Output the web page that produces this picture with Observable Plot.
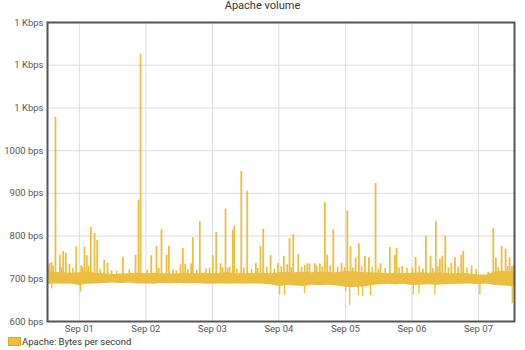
<!DOCTYPE html>
<html>
<head>
<meta charset="utf-8">
<script src="https://cdn.jsdelivr.net/npm/d3@7"></script>
<script src="https://cdn.jsdelivr.net/npm/@observablehq/plot@0.6"></script>
<style>
  body { margin: 0; background: #fff; font-family: Roboto, "Noto Sans", sans-serif; }
  #wrap { position: relative; width: 525px; height: 350px; }
  #title { height: 14px; line-height: 11px; text-align: center; font-size: 11px; color: #333; }
  #legend { position: absolute; left: 8px; top: 336px; font-size: 9.5px; color: #333; display: flex; align-items: center; }
  #legend .sw { width: 13px; height: 9px; background: #ECBE40; border: 1px solid #d9a92a; margin-right: 1px; box-sizing: border-box; }
</style>
</head>
<body>
<div id="wrap">
  <div id="title">Apache volume</div>
  <div id="chart"></div>
  <div id="legend"><span class="sw"></span><span>Apache: Bytes per second</span></div>
</div>
<script>
const title = "Apache volume";
const seriesName = "Apache: Bytes per second";

// y axis ticks (bps)
const yTicks = [600, 700, 800, 900, 1000, 1100, 1200, 1300];
// x axis ticks (days)
const xTicks = ["2023-09-01T00:00Z","2023-09-02T00:00Z","2023-09-03T00:00Z","2023-09-04T00:00Z","2023-09-05T00:00Z","2023-09-06T00:00Z","2023-09-07T00:00Z"];
const xStart = "2023-08-31T12:30Z";
const xEnd = "2023-09-07T13:00Z";

// dense baseline noise band (every 3 hours): low / high bps
const bandTime = [
  "2023-08-31T12:00Z","2023-08-31T15:00Z","2023-08-31T18:00Z","2023-08-31T21:00Z",
  "2023-09-01T00:00Z","2023-09-01T03:00Z","2023-09-01T06:00Z","2023-09-01T09:00Z","2023-09-01T12:00Z","2023-09-01T15:00Z","2023-09-01T18:00Z","2023-09-01T21:00Z",
  "2023-09-02T00:00Z","2023-09-02T03:00Z","2023-09-02T06:00Z","2023-09-02T09:00Z","2023-09-02T12:00Z","2023-09-02T15:00Z","2023-09-02T18:00Z","2023-09-02T21:00Z",
  "2023-09-03T00:00Z","2023-09-03T03:00Z","2023-09-03T06:00Z","2023-09-03T09:00Z","2023-09-03T12:00Z","2023-09-03T15:00Z","2023-09-03T18:00Z","2023-09-03T21:00Z",
  "2023-09-04T00:00Z","2023-09-04T03:00Z","2023-09-04T06:00Z","2023-09-04T09:00Z","2023-09-04T12:00Z","2023-09-04T15:00Z","2023-09-04T18:00Z","2023-09-04T21:00Z",
  "2023-09-05T00:00Z","2023-09-05T03:00Z","2023-09-05T06:00Z","2023-09-05T09:00Z","2023-09-05T12:00Z","2023-09-05T15:00Z","2023-09-05T18:00Z","2023-09-05T21:00Z",
  "2023-09-06T00:00Z","2023-09-06T03:00Z","2023-09-06T06:00Z","2023-09-06T09:00Z","2023-09-06T12:00Z","2023-09-06T15:00Z","2023-09-06T18:00Z","2023-09-06T21:00Z",
  "2023-09-07T00:00Z","2023-09-07T03:00Z","2023-09-07T06:00Z","2023-09-07T09:00Z","2023-09-07T12:00Z","2023-09-07T15:00Z"
];
const bandLow = [
  686,688,687,688,
  684,687,688,689,690,689,690,688,
  688,687,689,688,689,688,689,688,
  687,688,687,688,687,688,687,686,
  682,684,683,682,685,684,685,683,
  680,679,681,683,686,687,686,687,
  684,685,686,685,686,687,687,688,
  686,688,684,683,682,682
];
const bandHigh = [
  718,715,714,713,
  714,716,713,712,710,711,712,713,
  712,713,712,711,712,713,712,713,
  712,713,714,712,713,712,713,712,
  714,715,714,716,714,716,715,714,
  717,716,715,714,713,712,713,712,
  713,714,713,714,713,712,713,711,
  709,709,716,717,716,716
];

// upward spikes: time / peak bps
const spikeTime = [
  "2023-08-31T13:10Z","2023-08-31T13:56Z","2023-08-31T14:30Z","2023-08-31T15:23Z","2023-08-31T16:57Z","2023-08-31T18:09Z","2023-08-31T19:06Z","2023-08-31T20:26Z","2023-08-31T22:52Z",
  "2023-09-01T00:40Z","2023-09-01T01:51Z","2023-09-01T02:41Z","2023-09-01T04:08Z","2023-09-01T05:28Z","2023-09-01T06:26Z","2023-09-01T08:58Z","2023-09-01T10:09Z","2023-09-01T15:41Z","2023-09-01T20:16Z","2023-09-01T21:20Z","2023-09-01T22:04Z",
  "2023-09-02T01:56Z","2023-09-02T03:50Z","2023-09-02T05:38Z","2023-09-02T07:27Z","2023-09-02T08:17Z","2023-09-02T12:30Z","2023-09-02T13:20Z","2023-09-02T14:12Z","2023-09-02T16:22Z","2023-09-02T16:56Z","2023-09-02T19:28Z",
  "2023-09-03T00:09Z","2023-09-03T01:23Z","2023-09-03T02:56Z","2023-09-03T04:44Z","2023-09-03T06:11Z","2023-09-03T07:23Z","2023-09-03T07:53Z","2023-09-03T10:25Z","2023-09-03T12:34Z","2023-09-03T15:41Z","2023-09-03T17:22Z","2023-09-03T18:21Z","2023-09-03T21:00Z","2023-09-03T23:41Z",
  "2023-09-04T01:47Z","2023-09-04T03:00Z","2023-09-04T03:50Z","2023-09-04T05:10Z","2023-09-04T06:59Z","2023-09-04T10:14Z","2023-09-04T11:03Z","2023-09-04T12:58Z","2023-09-04T14:46Z","2023-09-04T16:35Z","2023-09-04T17:26Z","2023-09-04T19:37Z","2023-09-04T22:36Z",
  "2023-09-05T00:40Z","2023-09-05T01:51Z","2023-09-05T03:39Z","2023-09-05T04:51Z","2023-09-05T07:01Z","2023-09-05T08:28Z","2023-09-05T10:53Z","2023-09-05T12:41Z","2023-09-05T16:02Z","2023-09-05T17:50Z","2023-09-05T18:27Z","2023-09-05T20:30Z",
  "2023-09-06T01:19Z","2023-09-06T03:57Z","2023-09-06T05:02Z","2023-09-06T06:44Z","2023-09-06T08:38Z","2023-09-06T10:05Z","2023-09-06T10:57Z","2023-09-06T12:02Z","2023-09-06T14:12Z","2023-09-06T15:30Z","2023-09-06T17:48Z","2023-09-06T18:32Z","2023-09-06T21:31Z",
  "2023-09-07T05:21Z","2023-09-07T06:17Z","2023-09-07T08:21Z","2023-09-07T09:47Z","2023-09-07T11:14Z","2023-09-07T12:34Z"
];
const spikeValue = [
  735,738,730,1078,755,764,760,734,775,
  730,774,754,820,806,790,743,736,750,755,884,1226,
  754,776,815,755,776,733,771,734,735,796,834,
  754,808,735,863,727,814,824,951,905,736,776,816,754,736,
  752,733,794,804,757,735,735,735,735,878,755,814,736,
  859,775,749,782,752,749,923,735,773,755,771,729,
  750,723,800,753,834,746,753,800,736,749,755,764,730,
  818,748,776,769,750,730
];

// small noise spikes above the band: time / peak bps
const minorTime = [
  "2023-08-31T12:50Z","2023-08-31T17:30Z","2023-08-31T21:40Z","2023-09-01T01:10Z","2023-09-01T03:20Z","2023-09-01T07:30Z","2023-09-01T11:40Z","2023-09-01T13:30Z","2023-09-01T18:00Z",
  "2023-09-02T00:30Z","2023-09-02T04:40Z","2023-09-02T09:50Z","2023-09-02T11:00Z","2023-09-02T15:10Z","2023-09-02T18:20Z","2023-09-02T21:40Z","2023-09-02T23:00Z",
  "2023-09-03T03:40Z","2023-09-03T05:30Z","2023-09-03T08:50Z","2023-09-03T11:20Z","2023-09-03T14:10Z","2023-09-03T16:20Z","2023-09-03T19:40Z","2023-09-03T22:20Z",
  "2023-09-04T00:50Z","2023-09-04T04:30Z","2023-09-04T08:10Z","2023-09-04T09:20Z","2023-09-04T13:40Z","2023-09-04T15:40Z","2023-09-04T18:30Z","2023-09-04T21:10Z","2023-09-04T23:40Z",
  "2023-09-05T02:40Z","2023-09-05T05:50Z","2023-09-05T09:40Z","2023-09-05T11:50Z","2023-09-05T14:20Z","2023-09-05T19:20Z","2023-09-05T22:10Z",
  "2023-09-06T00:10Z","2023-09-06T02:40Z","2023-09-06T07:30Z","2023-09-06T09:20Z","2023-09-06T13:10Z","2023-09-06T16:40Z","2023-09-06T19:50Z","2023-09-06T23:10Z",
  "2023-09-07T03:30Z","2023-09-07T07:10Z","2023-09-07T10:30Z","2023-09-07T12:00Z"
];
const minorValue = [
  728,726,724,727,729,722,719,718,721,
  720,724,721,719,722,720,723,725,
  726,724,723,725,722,724,727,723,
  728,726,727,731,729,728,730,727,726,
  725,728,727,723,724,726,725,
  726,729,724,728,726,727,725,722,
  716,726,729,728
];

// downward dips: time / minimum bps
const dipTime = [
  "2023-08-31T14:00Z","2023-09-01T00:25Z","2023-09-04T00:14Z","2023-09-04T02:02Z","2023-09-04T09:15Z",
  "2023-09-05T00:05Z","2023-09-05T01:31Z","2023-09-05T04:40Z","2023-09-05T06:12Z","2023-09-05T09:04Z",
  "2023-09-06T00:29Z","2023-09-06T02:30Z","2023-09-06T08:17Z","2023-09-07T00:31Z","2023-09-07T12:13Z"
];
const dipValue = [676,669,662,662,665,669,638,660,659,660,662,664,662,662,642];

const baseline = 700;
const color = "#ECBE40";

const band = bandTime.map((t, i) => ({t: new Date(t), lo: bandLow[i], hi: bandHigh[i]}));
const spikes = spikeTime.map((t, i) => ({t: new Date(t), v: spikeValue[i]}));
const minor = minorTime.map((t, i) => ({t: new Date(t), v: minorValue[i]}));
const dips = dipTime.map((t, i) => ({t: new Date(t), v: dipValue[i]}));

const fmtY = d => d > 1000 ? "1 Kbps" : d + " bps";

const chart = Plot.plot({
  width: 525,
  height: 321,
  marginLeft: 47,
  marginRight: 11,
  marginTop: 8,
  marginBottom: 14,
  style: {fontFamily: "Roboto, 'Noto Sans', sans-serif", fontSize: "10px", color: "#555", background: "#fff"},
  x: {type: "utc", domain: [new Date(xStart), new Date(xEnd)], label: null},
  y: {domain: [600, 1300], label: null},
  marks: [
    Plot.gridX(xTicks.map(d => new Date(d)), {stroke: "#dcdcdc", strokeOpacity: 1}),
    Plot.gridY(yTicks, {stroke: "#dcdcdc", strokeOpacity: 1}),
    Plot.areaY(band, {x: "t", y1: "lo", y2: "hi", fill: color, curve: "linear", clip: true}),
    Plot.ruleX(minor, {x: "t", y1: baseline, y2: "v", stroke: color, strokeWidth: 1.6, clip: true}),
    Plot.ruleX(spikes, {x: "t", y1: baseline, y2: "v", stroke: color, strokeWidth: 1.8, clip: true}),
    Plot.ruleX(dips, {x: "t", y1: baseline, y2: "v", stroke: color, strokeWidth: 1.4, clip: true}),
    Plot.axisY(yTicks, {tickFormat: fmtY, tickSize: 0, tickPadding: 4, fill: "#555", fontSize: 9.5, label: null}),
    Plot.axisX(xTicks.map(d => new Date(d)), {tickFormat: d3.utcFormat("%b %d"), tickSize: 0, tickPadding: 4, fill: "#555", fontSize: 9.5, label: null}),
    Plot.frame({stroke: "#555", strokeWidth: 2})
  ]
});
document.getElementById("chart").appendChild(chart);
</script>
</body>
</html>
